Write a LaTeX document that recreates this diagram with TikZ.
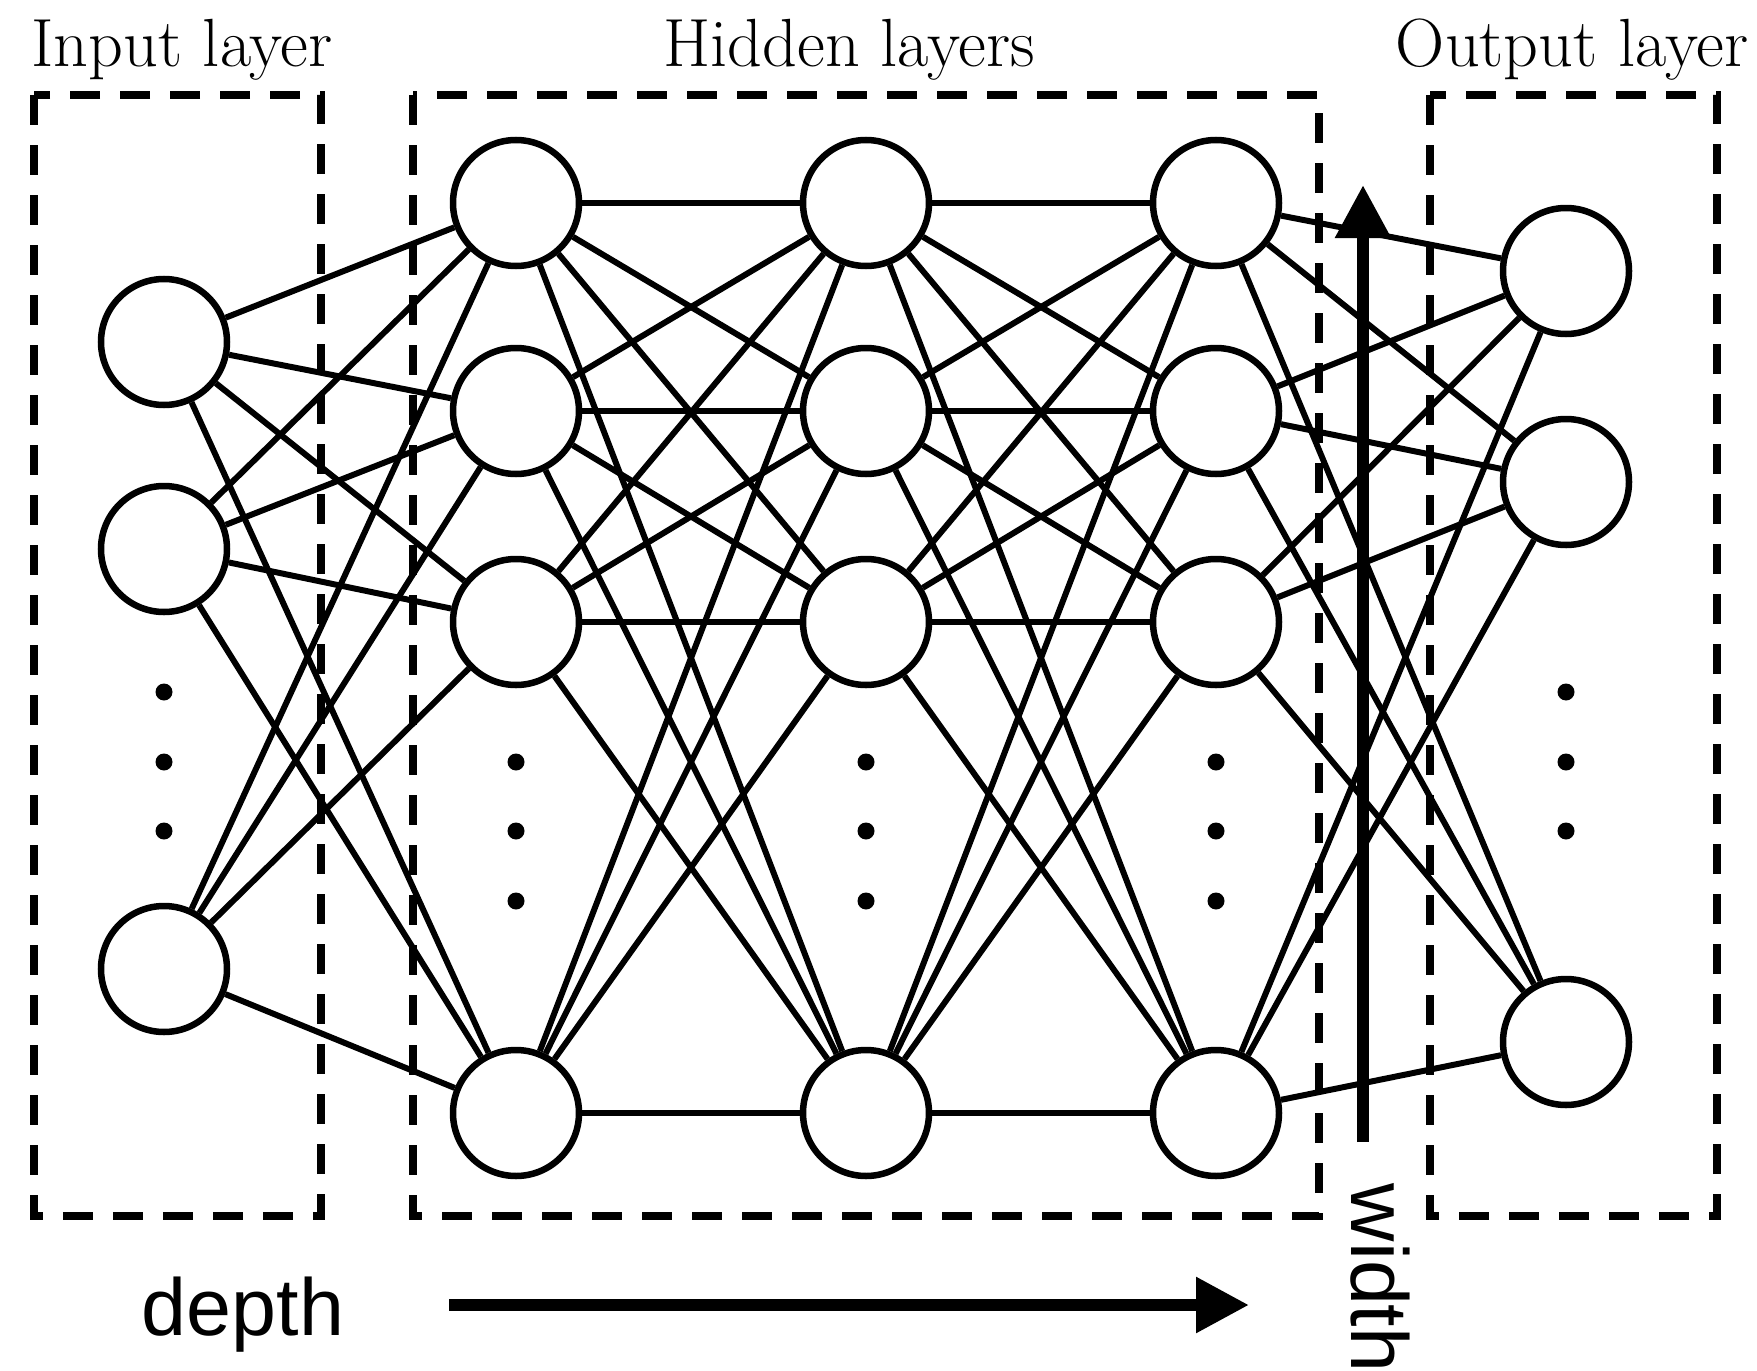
\documentclass[tikz,border=0pt]{standalone}
\usepackage{fontspec}
\newfontfamily\axisfont{Liberation Sans}
\usepackage{tikz}
\usetikzlibrary{arrows.meta, positioning}

\begin{document}
\begin{tikzpicture}[
    neuron/.style={circle, draw, line width=1.85pt, fill=white, minimum size=1.26cm, inner sep=0pt},
    link/.style={line width=1.7pt},
    layerbox/.style={draw, line width=2pt, dash pattern=on 0.3cm off 0.2cm},
    layertitle/.style={anchor=base, inner sep=0pt, font=\fontsize{19.4}{22}\selectfont},
    vdot/.style={circle, fill, inner sep=0pt, minimum size=0.17cm},
    bigarrow/.style={line width=0.12cm, -{Triangle[length=0.53cm, width=0.53cm]}},
    axislabel/.style={inner sep=0pt, font=\axisfont\fontsize{23}{26}\selectfont}
]
\useasboundingbox (0,0) rectangle (17.57,-13.71);

% layer frames
\draw[layerbox] (0.34,-0.95) rectangle (3.21,-12.16);
\draw[layerbox] (4.13,-0.95) rectangle (13.19,-12.16);
\draw[layerbox] (14.30,-0.95) rectangle (17.17,-12.16);

\node[layertitle] (tin) at (1.82,-0.67) {Input layer};
\node[layertitle] (thid) at (8.49,-0.67) {Hidden layers};
\node[layertitle] (tout) at (15.72,-0.67) {Output layer};

% neurons
\foreach \r/\y in {1/-3.42, 2/-5.49, 3/-9.69}
    \node[neuron] (i\r) at (1.64,\y) {};
\foreach \c/\x in {1/5.16, 2/8.66, 3/12.16}
    \foreach \r/\y in {1/-2.03, 2/-4.11, 3/-6.22, 4/-11.13}
        \node[neuron] (h\c\r) at (\x,\y) {};
\foreach \r/\y in {1/-2.71, 2/-4.82, 3/-10.42}
    \node[neuron] (o\r) at (15.66,\y) {};

% vertical dots
\foreach \k/\y in {1/-6.92, 2/-7.62, 3/-8.31} {
    \node[vdot] (idot\k) at (1.64,\y) {};
    \node[vdot] (odot\k) at (15.66,\y) {};
}
\foreach \c/\x in {1/5.16, 2/8.66, 3/12.16}
    \foreach \k/\y in {1/-7.62, 2/-8.31, 3/-9.01}
        \node[vdot] (hdot\c\k) at (\x,\y) {};

% connections
\foreach \a in {1,2,3}
    \foreach \b in {1,...,4}
        \draw[link] (i\a) -- (h1\b);
\foreach \c in {1,2} {
    \pgfmathtruncatemacro{\n}{\c+1}
    \foreach \a in {1,...,4}
        \foreach \b in {1,...,4}
            \draw[link] (h\c\a) -- (h\n\b);
}
\foreach \a in {1,...,4}
    \foreach \b in {1,2,3}
        \draw[link] (h3\a) -- (o\b);

% depth and width
\coordinate (dtail) at (4.49,-13.05);
\coordinate (dtip) at (12.49,-13.05);
\coordinate (wtail) at (13.63,-11.42);
\coordinate (wtip) at (13.63,-1.85);
\draw[bigarrow] (dtail) -- (dtip);
\draw[bigarrow] (wtail) -- (wtip);
\node[axislabel, anchor=base] (dlabel) at (2.43,-13.35) {depth};
\node[axislabel, rotate=-90, anchor=base west] (wlabel) at (13.51,-11.83) {width};

\end{tikzpicture}
\end{document}
